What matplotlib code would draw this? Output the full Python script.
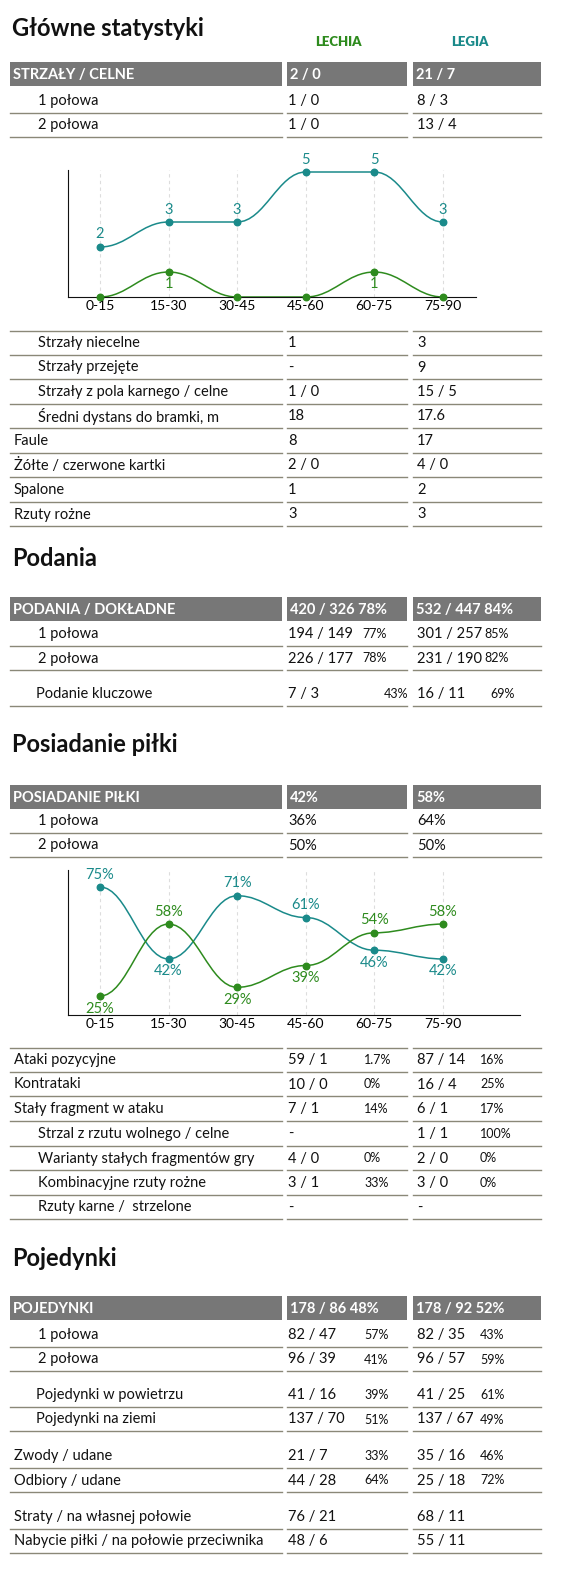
import matplotlib
matplotlib.use("Agg")
from matplotlib import pyplot as plt
from matplotlib.path import Path
from matplotlib.patches import PathPatch

plt.rcParams['font.family'] = ['Lato', 'DejaVu Sans']

LECHIA = '#2e8b1e'
LEGIA = '#1a8a8a'
BAR = '#777777'
LINE = '#8a8878'

# ---- data ----
periods = ["0-15", "15-30", "30-45", "45-60", "60-75", "75-90"]
shots_lechia = [0, 1, 0, 0, 1, 0]
shots_legia = [2, 3, 3, 5, 5, 3]
poss_lechia = [25, 58, 29, 39, 54, 58]
poss_legia = [75, 42, 71, 61, 46, 42]

shots_header = ("STRZAŁY / CELNE", "2 / 0", "21 / 7")
shots_rows = [("1 połowa", "1 / 0", "", "8 / 3", ""),
              ("2 połowa", "1 / 0", "", "13 / 4", "")]
shots_more = [("Strzały niecelne", "1", "", "3", ""),
              ("Strzały przejęte", "-", "", "9", ""),
              ("Strzały z pola karnego / celne", "1 / 0", "", "15 / 5", ""),
              ("Średni dystans do bramki, m", "18", "", "17.6", "")]
misc_rows = [("Faule", "8", "", "17", ""),
             ("Żółte / czerwone kartki", "2 / 0", "", "4 / 0", ""),
             ("Spalone", "1", "", "2", ""),
             ("Rzuty rożne", "3", "", "3", "")]

pass_header = ("PODANIA / DOKŁADNE", "420 / 326 78%", "532 / 447 84%")
pass_rows = [("1 połowa", "194 / 149", "77%", "301 / 257", "85%"),
             ("2 połowa", "226 / 177", "78%", "231 / 190", "82%")]
pass_key = [("Podanie kluczowe", "7 / 3", "43%", "16 / 11", "69%")]

poss_header = ("POSIADANIE PIŁKI", "42%", "58%")
poss_rows = [("1 połowa", "36%", "", "64%", ""),
             ("2 połowa", "50%", "", "50%", "")]

attack_rows = [("Ataki pozycyjne", "59 / 1", "1.7%", "87 / 14", "16%"),
               ("Kontrataki", "10 / 0", "0%", "16 / 4", "25%"),
               ("Stały fragment w ataku", "7 / 1", "14%", "6 / 1", "17%")]
setpiece_rows = [("Strzal z rzutu wolnego / celne", "-", "", "1 / 1", "100%"),
                 ("Warianty stałych fragmentów gry", "4 / 0", "0%", "2 / 0", "0%"),
                 ("Kombinacyjne rzuty rożne", "3 / 1", "33%", "3 / 0", "0%"),
                 ("Rzuty karne /  strzelone", "-", "", "-", "")]

duel_header = ("POJEDYNKI", "178 / 86 48%", "178 / 92 52%")
duel_rows = [("1 połowa", "82 / 47", "57%", "82 / 35", "43%"),
             ("2 połowa", "96 / 39", "41%", "96 / 57", "59%")]
duel_sub = [("Pojedynki w powietrzu", "41 / 16", "39%", "41 / 25", "61%"),
            ("Pojedynki na ziemi", "137 / 70", "51%", "137 / 67", "49%")]
drib_rows = [("Zwody / udane", "21 / 7", "33%", "35 / 16", "46%"),
             ("Odbiory / udane", "44 / 28", "64%", "25 / 18", "72%")]
loss_rows = [("Straty / na własnej połowie", "76 / 21", "", "68 / 11", ""),
             ("Nabycie piłki / na połowie przeciwnika", "48 / 6", "", "55 / 11", "")]

W, H = 561, 1591
fig = plt.figure(figsize=(W / 100, H / 100), dpi=100)
ax = fig.add_axes([0, 0, 1, 1])
ax.set_xlim(0, W)
ax.set_ylim(H, 0)
ax.axis('off')

COLS = [(10, 282), (287, 407), (413, 541)]


def title(y, s):
    ax.text(12, y, s, fontsize=17, fontweight='bold', va='center', color='#111111')


def header(y, row):
    for (x0, x1), s in zip(COLS, row):
        ax.add_patch(plt.Rectangle((x0, y - 12), x1 - x0, 24, color=BAR, lw=0))
        ax.text(x0 + 3, y + 1, s, color='white', fontsize=10.5, fontweight='bold', va='center')


def hline(y):
    for x0, x1 in COLS:
        ax.plot([x0, x1], [y, y], color=LINE, lw=1)


def rows(y0, data, indent, step=24.5, pct_x=(364, 480)):
    for i, (lab, v1, p1, v2, p2) in enumerate(data):
        y = y0 + i * step
        ax.text(indent, y, lab, fontsize=10.5, va='center', color='#111111')
        ax.text(288, y, v1, fontsize=10.5, va='center', color='#111111')
        ax.text(417, y, v2, fontsize=10.5, va='center', color='#111111')
        ax.text(pct_x[0], y, p1, fontsize=9, va='center', color='#111111')
        ax.text(pct_x[1], y, p2, fontsize=9, va='center', color='#111111')
        hline(y + 11.5)


def smooth(a, xs, ys, color):
    verts = [(xs[0], ys[0])]
    codes = [Path.MOVETO]
    for i in range(len(xs) - 1):
        d = (xs[i + 1] - xs[i]) / 2.5
        verts += [(xs[i] + d, ys[i]), (xs[i + 1] - d, ys[i + 1]), (xs[i + 1], ys[i + 1])]
        codes += [Path.CURVE4] * 3
    a.add_patch(PathPatch(Path(verts, codes), fc='none', ec=color, lw=1.1, clip_on=False))
    a.scatter(xs, ys, s=22, color=color, zorder=5, clip_on=False)


def chart(rect, lech, leg, ylim, off, fmt, skip_zero):
    l, t, r, b = rect
    a = fig.add_axes([l / W, 1 - b / H, (r - l) / W, (b - t) / H])
    xs = list(range(len(periods)))
    a.set_xlim(-0.466, -0.466 + (r - l) / 68.6)
    a.set_ylim(*ylim)
    for x in xs:
        a.axvline(x, color='#dddddd', ls=(0, (3, 3)), lw=0.8, zorder=0)
    smooth(a, xs, leg, LEGIA)
    smooth(a, xs, lech, LECHIA)
    for x, v1, v2 in zip(xs, lech, leg):
        for v, other, c in ((v1, v2, LECHIA), (v2, v1, LEGIA)):
            if skip_zero and v == 0:
                continue
            dy = off if v >= other else -off
            a.annotate(fmt(v), (x, v), xytext=(0, dy), textcoords='offset points',
                       ha='center', va='center', fontsize=10.5, color=c)
    a.set_xticks(xs, periods, fontsize=10)
    a.set_yticks([])
    a.tick_params(axis='x', length=0, pad=2)
    for s in ('top', 'right'):
        a.spines[s].set_visible(False)
    a.spines['left'].set_color('#111111')
    a.spines['bottom'].set_color('#111111')
    a.patch.set_alpha(0)


title(28, "Główne statystyki")
ax.text(338, 42, "LECHIA", color=LECHIA, fontsize=9.5, fontweight='heavy', ha='center', va='center')
ax.text(470, 42, "LEGIA", color=LEGIA, fontsize=9.5, fontweight='heavy', ha='center', va='center')
header(74, shots_header)
rows(101, shots_rows, 38)
chart((68, 170, 476, 297), shots_lechia, shots_legia, (0, 5.08), 9, str, True)
hline(331)
rows(343, shots_more, 38)
rows(441, misc_rows, 14)

title(558, "Podania")
header(609, pass_header)
rows(634, pass_rows, 38, pct_x=(362, 484))
rows(694, pass_key, 36, pct_x=(384, 490))

title(745, "Posiadanie piłki")
header(797, poss_header)
rows(821, poss_rows, 38)
chart((68, 870, 520, 1015), poss_lechia, poss_legia, (16.3, 82.8), 9,
      lambda v: f"{v}%", False)

hline(1048)
rows(1060, attack_rows, 14)
rows(1134, setpiece_rows, 38)

title(1258, "Pojedynki")
header(1308, duel_header)
rows(1335, duel_rows, 38)
rows(1395, duel_sub, 36)
rows(1456, drib_rows, 14)
rows(1517, loss_rows, 14)

fig.savefig("out.png", dpi=100, facecolor='white')
